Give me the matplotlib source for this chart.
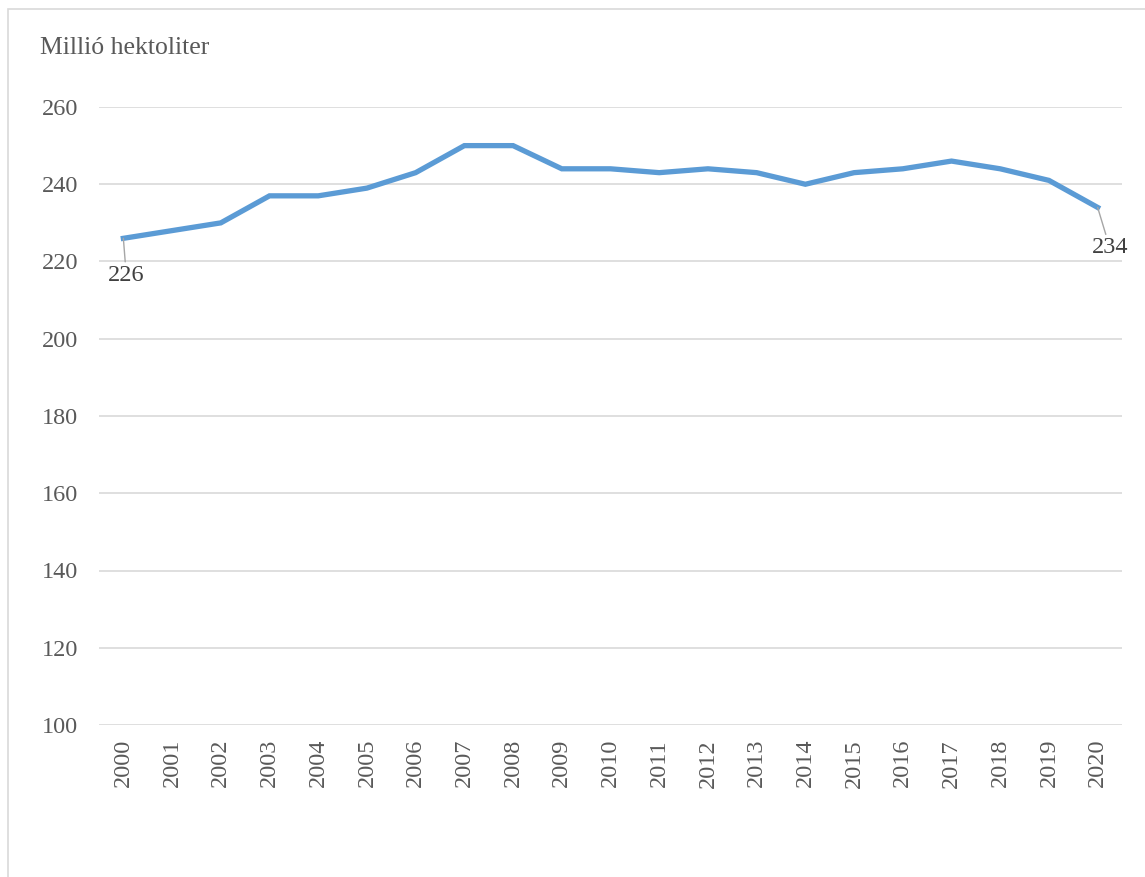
import matplotlib.pyplot as plt
from matplotlib.patches import Rectangle

years = [str(y) for y in range(2000, 2021)]
values = [226, 228, 230, 237, 237, 239, 243, 250, 250, 244, 244,
          243, 244, 243, 240, 243, 244, 246, 244, 241, 234]

plt.rcParams['font.family'] = ['Liberation Serif', 'DejaVu Serif']
text_color = '#595959'

W, H = 1145, 877
fig = plt.figure(figsize=(W / 100, H / 100), dpi=100)
ax = fig.add_axes([99 / W, 1 - 725 / H, (1122 - 99) / W, (725 - 107) / H])

x = list(range(len(years)))
ax.plot(x, values, color='#5B9BD5', linewidth=3.8, solid_joinstyle='miter')

ax.set_xlim(-0.5, len(years) - 0.5)
ax.set_ylim(100, 260)
ax.set_yticks(range(100, 261, 20))
ax.set_xticks(x)
ax.set_xticklabels(years, rotation=90)
ax.tick_params(axis='both', length=0, labelsize=17.5, colors=text_color)
ax.tick_params(axis='x', pad=10)
ax.tick_params(axis='y', pad=15)
ax.grid(axis='y', color='#D9D9D9', linewidth=1.2)
ax.set_axisbelow(True)
for s in ax.spines.values():
    s.set_visible(False)

# data labels for first and last point
ax.annotate(str(values[0]), xy=(x[0], values[0]), xytext=(0.06, 219.2),
            ha='center', va='top', fontsize=17.5, color='#404040',
            arrowprops=dict(arrowstyle='-', color='#A6A6A6', lw=1, shrinkA=0, shrinkB=0))
ax.annotate(str(values[-1]), xy=(x[-1], values[-1]), xytext=(20.25, 226.3),
            ha='center', va='top', fontsize=17.5, color='#404040',
            arrowprops=dict(arrowstyle='-', color='#A6A6A6', lw=1, shrinkA=0, shrinkB=0))

fig.text(40 / W, 1 - 48 / H, 'Millió hektoliter', fontsize=18.5, color=text_color,
         ha='left', va='center')

fig.patches.append(Rectangle((8 / W, -0.1), 1.2, 1.1 - 9 / H, transform=fig.transFigure,
                             fill=False, edgecolor='#D9D9D9', linewidth=1.2))

plt.savefig('out.png', dpi=100)
